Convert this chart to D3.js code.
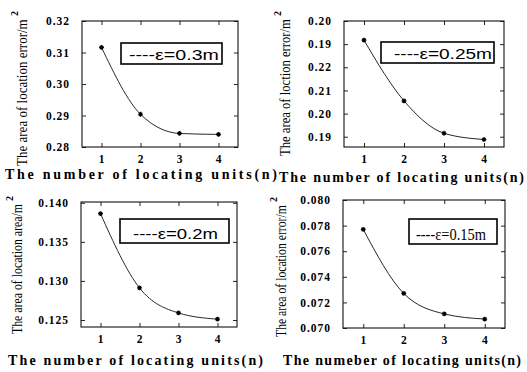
<!DOCTYPE html>
<html>
<head>
<meta charset="utf-8">
<script src="https://cdn.jsdelivr.net/npm/d3@7/dist/d3.min.js"></script>
<style>
  html, body { margin: 0; padding: 0; background: #fff; }
  svg { display: block; }
</style>
</head>
<body>
<svg id="chart" width="527" height="372"></svg>
<script>
// ---------- data ----------
const xCats = [1, 2, 3, 4];

const valuesA = [0.3116, 0.2904, 0.2843, 0.2840];
const valuesB = [0.2317, 0.2055, 0.1915, 0.1888];
const valuesC = [0.1386, 0.1291, 0.1259, 0.1251];
const valuesD = [0.0777, 0.0727, 0.0711, 0.0707];

const ticksA = [0.28, 0.29, 0.30, 0.31, 0.32];
const tickLabelsA = ["0.28", "0.29", "0.30", "0.31", "0.32"];
const ticksB = [0.19, 0.20, 0.21, 0.22, 0.23, 0.24];
const tickLabelsB = ["0.19", "0.20", "0.21", "0.22", "0.19", "0.20"];
const ticksC = [0.125, 0.130, 0.135, 0.140];
const tickLabelsC = ["0.125", "0.130", "0.135", "0.140"];
const ticksD = [0.070, 0.072, 0.074, 0.076, 0.078, 0.080];
const tickLabelsD = ["0.070", "0.072", "0.074", "0.076", "0.078", "0.080"];

const legendLabels = ["----\u03b5=0.3m", "----\u03b5=0.25m", "----\u03b5=0.2m", "----\u03b5=0.15m"];
const yTitles = ["The area of location error/m", "The area of loction error/m",
                 "The area of location area/m", "The area of location error/m"];
const xTitles = ["The number of locating units(n)", "The number of locating units(n)",
                 "The number of locating units(n)", "The numeber of locating units(n)"];

// ---------- layout ----------
const panels = [
  { vals: valuesA, ticks: ticksA, labels: tickLabelsA, yDom: [0.28, 0.32],
    box: [82, 21, 238, 147], leg: [121, 43, 222, 64], legFont: "Liberation Sans", legSize: 14, legX: 129, legLen: 90,
    yt: { x: 27, y0: 166, y1: 18 }, xt: { x: 5, y: 179, len: 272 } },
  { vals: valuesB, ticks: ticksB, labels: tickLabelsB, yDom: [0.18556, 0.2400],
    box: [344, 21, 504, 147], leg: [381, 42, 494, 63], legFont: "Liberation Sans", legSize: 14, legX: 394, legLen: 98,
    yt: { x: 290, y0: 156, y1: 18 }, xt: { x: 279, y: 182, len: 245 } },
  { vals: valuesC, ticks: ticksC, labels: tickLabelsC, yDom: [0.1241, 0.1401],
    box: [81, 202, 237, 327], leg: [120, 219, 229, 243], legFont: "Liberation Sans", legSize: 15, legX: 133, legLen: 85,
    yt: { x: 22, y0: 334, y1: 203 }, xt: { x: 8, y: 365, len: 255 } },
  { vals: valuesD, ticks: ticksD, labels: tickLabelsD, yDom: [0.070, 0.080],
    box: [343, 200, 505, 328], leg: [409, 219, 497, 244], legFont: "Liberation Serif", legSize: 16, legX: 416, legLen: 70,
    yt: { x: 286, y0: 337, y1: 204 }, xt: { x: 283, y: 365, len: 238 } }
];

const svg = d3.select("#chart");
const serif = "'Liberation Serif', 'Times New Roman', serif";

panels.forEach((p, i) => {
  const [x0, y0, x1, y1] = p.box;
  const x = d3.scaleLinear().domain([0.5, 4.5]).range([x0, x1]);
  const y = d3.scaleLinear().domain(p.yDom).range([y1, y0]);
  const g = svg.append("g");

  // axes with inward ticks (box style)
  const fmt = (d) => p.labels[p.ticks.indexOf(d)];
  const left = g.append("g").attr("transform", `translate(${x0},0)`)
    .call(d3.axisLeft(y).tickValues(p.ticks).tickFormat(fmt).tickSizeInner(-4).tickSizeOuter(0).tickPadding(12));
  const right = g.append("g").attr("transform", `translate(${x1},0)`)
    .call(d3.axisRight(y).tickValues(p.ticks).tickFormat("").tickSizeInner(-4).tickSizeOuter(0));
  const bottom = g.append("g").attr("transform", `translate(0,${y1})`)
    .call(d3.axisBottom(x).tickValues(xCats).tickFormat(d3.format("d")).tickSizeInner(-4).tickSizeOuter(0).tickPadding(8));
  const top = g.append("g").attr("transform", `translate(0,${y0})`)
    .call(d3.axisTop(x).tickValues(xCats).tickFormat("").tickSizeInner(-4).tickSizeOuter(0));

  [left, right, bottom, top].forEach(a => {
    a.select(".domain").remove();
    a.selectAll("line").attr("stroke", "#222").attr("stroke-width", 1);
    a.selectAll("text").attr("font-family", serif).attr("font-weight", "bold")
      .attr("font-size", 11.5).attr("letter-spacing", 1).attr("fill", "#000");
  });

  g.append("rect").attr("x", x0).attr("y", y0).attr("width", x1 - x0).attr("height", y1 - y0)
    .attr("fill", "none").attr("stroke", "#111").attr("stroke-width", 1.1);

  // curve
  const line = d3.line().x((d, k) => x(xCats[k])).y(d => y(d)).curve(d3.curveMonotoneX);
  g.append("path").datum(p.vals).attr("d", line)
    .attr("fill", "none").attr("stroke", "#111").attr("stroke-width", 0.9);

  // star markers
  const r = 2.4;
  p.vals.forEach((v, k) => {
    const cx = x(xCats[k]), cy = y(v);
    const path = `M${cx - r},${cy}L${cx + r},${cy}M${cx},${cy - r}L${cx},${cy + r}` +
      `M${cx - r * 0.7},${cy - r * 0.7}L${cx + r * 0.7},${cy + r * 0.7}M${cx - r * 0.7},${cy + r * 0.7}L${cx + r * 0.7},${cy - r * 0.7}`;
    g.append("path").attr("d", path).attr("stroke", "#000").attr("stroke-width", 1.2);
  });

  // legend box
  const [lx0, ly0, lx1, ly1] = p.leg;
  g.append("rect").attr("x", lx0).attr("y", ly0).attr("width", lx1 - lx0).attr("height", ly1 - ly0)
    .attr("fill", "#fff").attr("stroke", "#000").attr("stroke-width", 1.6);
  const lt = g.append("text").attr("x", 0).attr("y", 0)
    .attr("font-family", `'${p.legFont}', sans-serif`).attr("font-size", p.legSize)
    .text(legendLabels[i]);
  const lNat = lt.node().getComputedTextLength();
  lt.attr("transform", `translate(${p.legX},${ly1 - 4}) scale(${p.legLen / lNat},1)`);

  // y title (rotated, horizontally condensed)
  const yLen = p.yt.y0 - p.yt.y1 - 1;
  const yt = g.append("text").attr("x", 0).attr("y", 0)
    .attr("font-family", serif).attr("font-size", 14.5)
    .text(yTitles[i]);
  const yNat = yt.node().getComputedTextLength();
  yt.attr("transform", `translate(${p.yt.x},${p.yt.y0}) rotate(-90) scale(${yLen / yNat},1)`);
  g.append("text").attr("transform", `translate(${p.yt.x - 9},${p.yt.y1 - 2}) rotate(-90)`)
    .attr("font-family", serif).attr("font-weight", "bold").attr("font-size", 10).text("2");

  // x title
  g.append("text").attr("x", p.xt.x).attr("y", p.xt.y)
    .attr("font-family", serif).attr("font-weight", "bold").attr("font-size", 14)
    .attr("textLength", p.xt.len).attr("lengthAdjust", "spacing")
    .text(xTitles[i]);
});
</script>
</body>
</html>
